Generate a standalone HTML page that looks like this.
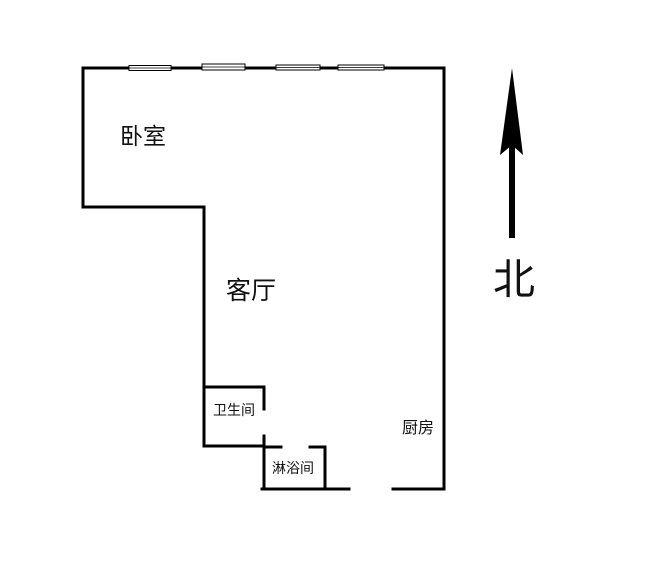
<!DOCTYPE html>
<html><head><meta charset="utf-8"><style>
body{margin:0;background:#fff;}
svg{display:block;}
text{font-family:"Liberation Sans","Noto Sans CJK SC",sans-serif;fill:#111;}
</style></head><body>
<svg width="656" height="582" viewBox="0 0 656 582" xmlns="http://www.w3.org/2000/svg">
<g stroke="#000" stroke-width="3" fill="none" stroke-linecap="square">
<polyline points="83,207 83,68 444,68 444,489 393,489"/>
<polyline points="83,207 204,207 204,446 264,446"/>
<polyline points="204,387 264,387 264,409"/>
<line x1="264" y1="436" x2="264" y2="489"/>
<polyline points="262,489 349,489"/>
<line x1="264" y1="447" x2="281" y2="447"/>
<polyline points="310,447 325,447 325,489"/>
</g>
<g stroke="#000" stroke-width="1" fill="#fff">
<rect x="129" y="65.5" width="42" height="5"/>
<rect x="202" y="64" width="43" height="6"/>
<rect x="276" y="65" width="44" height="5"/>
<rect x="338" y="65" width="46" height="5"/>
</g>
<g stroke="#000" stroke-width="0.8">
<line x1="129" y1="68" x2="171" y2="68"/><line x1="202" y1="67" x2="245" y2="67"/>
<line x1="276" y1="67.5" x2="320" y2="67.5"/><line x1="338" y1="67.5" x2="384" y2="67.5"/>
</g>
<polygon points="512,68 523,155 512,145 500,155" fill="#000"/>
<rect x="509" y="145" width="6" height="93" fill="#000"/>
<text x="514" y="294" font-size="42" text-anchor="middle">北</text>
<text x="143" y="144" font-size="23" text-anchor="middle">卧室</text>
<text x="251" y="299" font-size="25" text-anchor="middle">客厅</text>
<text x="234" y="415" font-size="14" text-anchor="middle">卫生间</text>
<text x="293" y="473" font-size="14" text-anchor="middle">淋浴间</text>
<text x="418" y="433" font-size="16" text-anchor="middle">厨房</text>
</svg>
</body></html>
